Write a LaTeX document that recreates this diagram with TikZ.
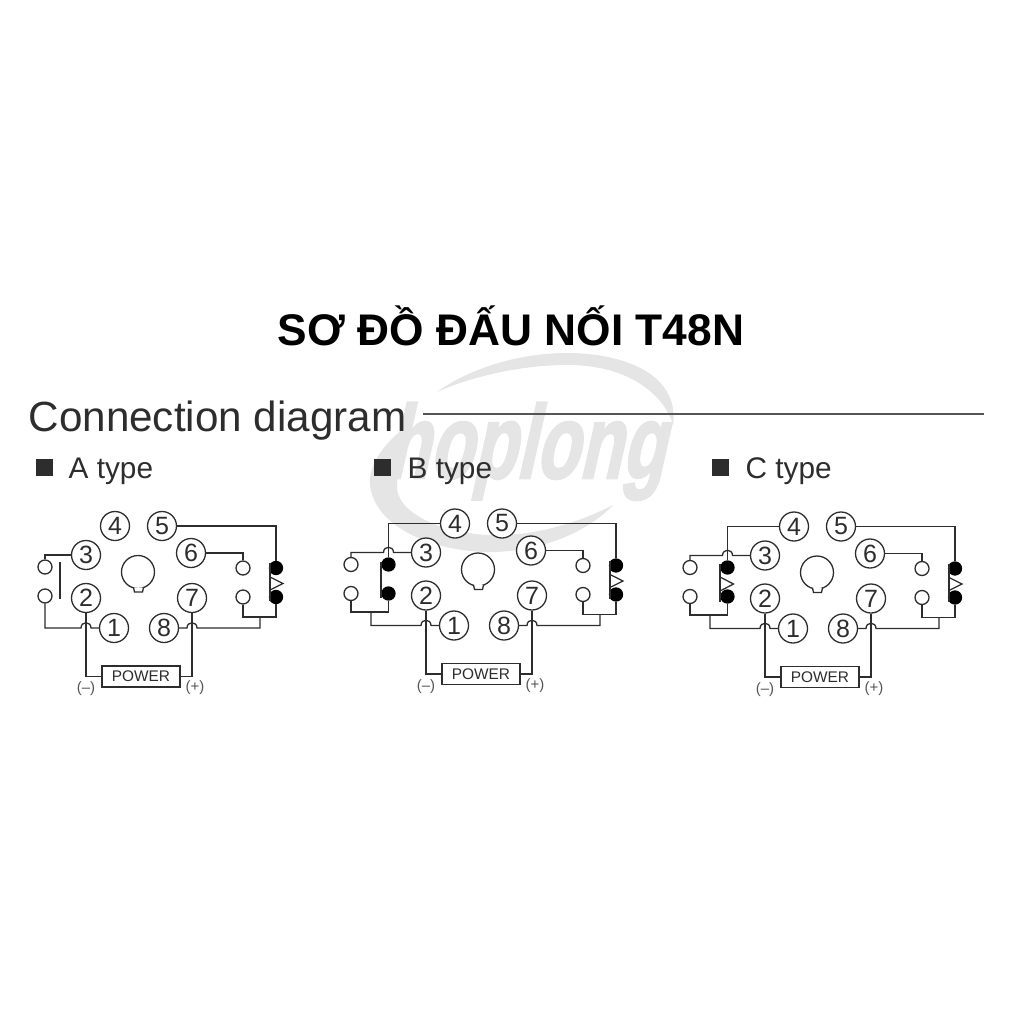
\documentclass[tikz,border=0pt]{standalone}
\usepackage{fontspec}
\setmainfont{Liberation Sans}
\newfontfamily\markfont[FakeBold=2.5]{Liberation Sans Bold}
\definecolor{inkcolor}{RGB}{45,45,45}
\definecolor{markcolor}{RGB}{229,229,229}
\definecolor{rulecolor}{RGB}{85,85,85}

\begin{document}
\begin{tikzpicture}[x=1pt, y=-1pt, node distance={29pt}, line width=1.3pt, draw=inkcolor,
	pin/.style = {draw=inkcolor, circle, fill=white, minimum size=29pt, inner sep=0pt, text=inkcolor, font=\fontsize{25}{25}\selectfont},
	hub/.style = {draw=inkcolor, circle, fill=white, minimum size=33pt, inner sep=0pt},
	term/.style = {draw=inkcolor, circle, fill=white, minimum size=14pt, inner sep=0pt},
	dot/.style = {draw=black, circle, fill=black, minimum size=13pt, inner sep=0pt},
	powerbox/.style = {draw=inkcolor, fill=white, minimum width=78pt, minimum height=21pt, inner sep=0pt, text=inkcolor, font=\fontsize{15.4}{15.4}\selectfont},
	sign/.style = {text=rulecolor, font=\fontsize{15}{15}\selectfont},
	kind/.style = {anchor=base west, text=inkcolor, font=\fontsize{29.8}{29.8}\selectfont},
	bullet/.style = {fill=inkcolor, minimum size=17pt, inner sep=0pt},
	bar/.style = {line width=2pt}]
	\useasboundingbox (0,0) rectangle (1024,1024);

	% watermark
	\fill[markcolor] (437,392) .. controls (470,368) and (520,353) .. (567,353) .. controls (625,353) and (680,375) .. (673,425) .. controls (668,405) and (640,365) .. (567,365) .. controls (525,365) and (475,375) .. (437,392) -- cycle;
	\fill[markcolor] (413,422) .. controls (385,440) and (368,465) .. (370,485) .. controls (375,530) and (440,553) .. (493,552) .. controls (545,551) and (590,530) .. (613,505) .. controls (580,522) and (535,537) .. (487,535) .. controls (435,532) and (395,510) .. (397,485) .. controls (398,465) and (405,440) .. (413,422) -- cycle;
	\node[text=markcolor, xscale=.68, xslant=.33, transform shape, anchor=base, font=\fontsize{104}{104}\markfont] (Mark) at (525,478) {hoplong};

	% headings
	\node[anchor=base, text=black, font=\fontsize{44.3}{44.3}\selectfont\bfseries] (Title) at (511,345) {SƠ ĐỒ ĐẤU NỐI T48N};
	\node[anchor=base west, inner sep=0pt, text=inkcolor, font=\fontsize{42.2}{42.2}\selectfont] (Heading) at (28,431) {Connection diagram};
	\coordinate (RuleEnd) at (984,414);
	\draw[rulecolor, line width=2pt] (423,414) -- (RuleEnd);

	\node[bullet] (ABullet) at (44.5,467.5) {};
	\node[kind, inner sep=0pt] (AType) at (68,478) {A type};
	\node[bullet] (BBullet) at (382.5,467.5) {};
	\node[kind, inner sep=0pt] (BType) at (407,478) {B type};
	\node[bullet] (CBullet) at (720.5,467.5) {};
	\node[kind, inner sep=0pt] (CType) at (745,478) {C type};

	% A type
	\node[hub] (AKey) at (138,572) {};
	\draw[fill=white] (133.5,587.5) -- (134.5,592) -- (142.5,592) -- (143.5,587.5);
	\node[pin] (A4) at (115,526) {4};
	\node[pin] (A5) at (162,526) {5};
	\node[pin] (A3) at (86,555) {3};
	\node[pin] (A6) at (191,553) {6};
	\node[pin] (A2) at (86,598) {2};
	\node[pin] (A7) at (192,598) {7};
	\node[pin] (A1) at (114,628) {1};
	\node[pin] (A8) at (164,628) {8};
	\node[term] (ATermUL) at (45,567) {};
	\node[term] (ATermLL) [below of=ATermUL] {};
	\node[term] (ATermUR) at (243,568) {};
	\node[term] (ATermLR) [below of=ATermUR] {};
	\node[dot] (ADotU) at (276,568) {};
	\node[dot] (ADotL) [below of=ADotU] {};
	\node[powerbox] (APower) at (141,676.5) {POWER};
	\node[sign] (AMinus) at (86,689) {(--)};
	\node[sign] (APlus) at (195,688) {(+)};
	\coordinate (AJoint) at (260,617);

	\draw (A3) -| (ATermUL);
	\draw (A1) -- (91,628) .. controls (91,621) and (81,621) .. (81,628) -- (45,628) -- (ATermLL);
	\draw (A6) -| (ATermUR);
	\draw (A5) -| (ADotU);
	\draw (ATermLR) |- (AJoint) -| (ADotL);
	\draw (AJoint) -- (260,628) -- (197,628) .. controls (197,621) and (187,621) .. (187,628) -- (A8);
	\draw (A2) |- (APower);
	\draw (A7) |- (APower);
	\draw (60,562) -- (60,599);
	\draw[bar] (269.5,563) -- (269.5,601);
	\draw (270,577) -- (283,583.5) -- (270,590);

	% B type
	\begin{scope}[shift={(340,-2.5)}]
		\node[hub] (BKey) at (138,572) {};
		\draw[fill=white] (133.5,587.5) -- (134.5,592) -- (142.5,592) -- (143.5,587.5);
		\node[pin] (B4) at (115,526) {4};
		\node[pin] (B5) at (162,526) {5};
		\node[pin] (B3) at (86,555) {3};
		\node[pin] (B6) at (191,553) {6};
		\node[pin] (B2) at (86,598) {2};
		\node[pin] (B7) at (192,598) {7};
		\node[pin] (B1) at (114,628) {1};
		\node[pin] (B8) at (164,628) {8};
		\node[term] (BTermUL) at (11,567) {};
		\node[term] (BTermLL) [below of=BTermUL] {};
		\node[dot] (BDotUL) at (48.5,567) {};
		\node[dot] (BDotLL) [below of=BDotUL] {};
		\node[term] (BTermUR) at (243,568) {};
		\node[term] (BTermLR) [below of=BTermUR] {};
		\node[dot] (BDotU) at (276,568) {};
		\node[dot] (BDotL) [below of=BDotU] {};
		\node[powerbox] (BPower) at (141,676.5) {POWER};
		\node[sign] (BMinus) at (86,689) {(--)};
		\node[sign] (BPlus) at (195,688) {(+)};
		\coordinate (BJoint) at (260,617);
		\coordinate (BJointL) at (31,614.5);

		\draw (B3) -- (53.5,555) .. controls (53.5,548) and (43.5,548) .. (43.5,555) -- (11,555) -- (BTermUL);
		\draw (B4) -| (BDotUL);
		\draw (BTermLL) |- (BJointL) -| (BDotLL);
		\draw (B1) -- (91,628) .. controls (91,621) and (81,621) .. (81,628) -- (31,628) -- (BJointL);
		\draw (B6) -| (BTermUR);
		\draw (B5) -| (BDotU);
		\draw (BTermLR) |- (BJoint) -| (BDotL);
		\draw (BJoint) -- (260,628) -- (197,628) .. controls (197,621) and (187,621) .. (187,628) -- (B8);
		\draw (B2) |- (BPower);
		\draw (B7) |- (BPower);
		\draw[bar] (41,564) -- (41,600);
		\draw[bar] (269.5,563) -- (269.5,601);
		\draw (270,577) -- (283,583.5) -- (270,590);
	\end{scope}

	% C type
	\begin{scope}[shift={(679,0.5)}]
		\node[hub] (CKey) at (138,572) {};
		\draw[fill=white] (133.5,587.5) -- (134.5,592) -- (142.5,592) -- (143.5,587.5);
		\node[pin] (C4) at (115,526) {4};
		\node[pin] (C5) at (162,526) {5};
		\node[pin] (C3) at (86,555) {3};
		\node[pin] (C6) at (191,553) {6};
		\node[pin] (C2) at (86,598) {2};
		\node[pin] (C7) at (192,598) {7};
		\node[pin] (C1) at (114,628) {1};
		\node[pin] (C8) at (164,628) {8};
		\node[term] (CTermUL) at (11,567) {};
		\node[term] (CTermLL) [below of=CTermUL] {};
		\node[dot] (CDotUL) at (48.5,567) {};
		\node[dot] (CDotLL) [below of=CDotUL] {};
		\node[term] (CTermUR) at (243,568) {};
		\node[term] (CTermLR) [below of=CTermUR] {};
		\node[dot] (CDotU) at (276,568) {};
		\node[dot] (CDotL) [below of=CDotU] {};
		\node[powerbox] (CPower) at (141,676.5) {POWER};
		\node[sign] (CMinus) at (86,689) {(--)};
		\node[sign] (CPlus) at (195,688) {(+)};
		\coordinate (CJoint) at (260,617);
		\coordinate (CJointL) at (31,614.5);

		\draw (C3) -- (53.5,555) .. controls (53.5,548) and (43.5,548) .. (43.5,555) -- (11,555) -- (CTermUL);
		\draw (C4) -| (CDotUL);
		\draw (CTermLL) |- (CJointL) -| (CDotLL);
		\draw (C1) -- (91,628) .. controls (91,621) and (81,621) .. (81,628) -- (31,628) -- (CJointL);
		\draw (C6) -| (CTermUR);
		\draw (C5) -| (CDotU);
		\draw (CTermLR) |- (CJoint) -| (CDotL);
		\draw (CJoint) -- (260,628) -- (197,628) .. controls (197,621) and (187,621) .. (187,628) -- (C8);
		\draw (C2) |- (CPower);
		\draw (C7) |- (CPower);
		\draw[bar] (41,563) -- (41,601);
		\draw (42,577) -- (54.5,583.5) -- (42,590);
		\draw[bar] (269.5,563) -- (269.5,601);
		\draw (270,577) -- (283,583.5) -- (270,590);
	\end{scope}
\end{tikzpicture}
\end{document}
